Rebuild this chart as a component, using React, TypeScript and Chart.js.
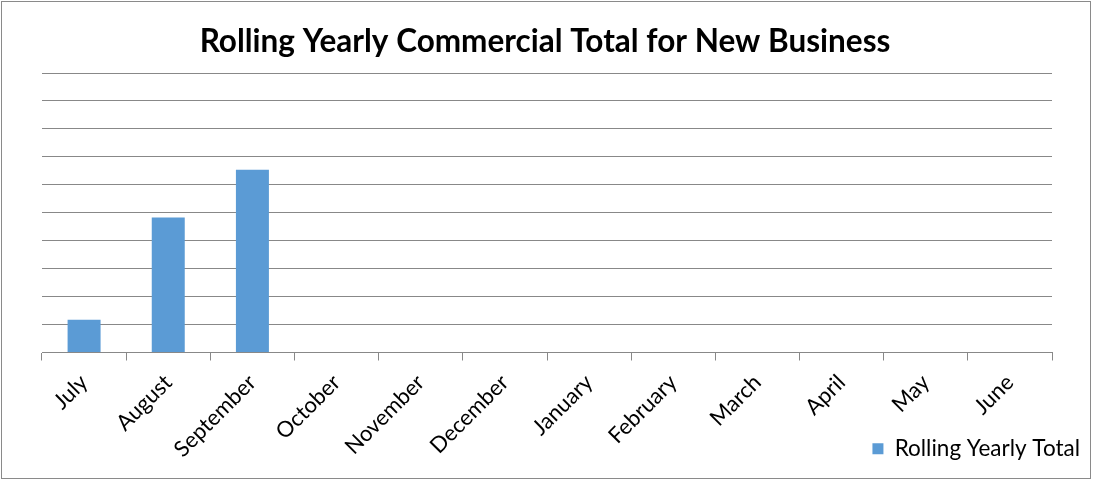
import React, { useEffect, useRef } from "react";
import { Chart, CategoryScale, registerables } from "chart.js";

class UnclippedCategoryScale extends (CategoryScale as any) {
  static id = "categoryUnclipped";
  _computeLabelArea() {
    return undefined;
  }
}

Chart.register(...registerables, UnclippedCategoryScale as any);

const months = [
  "July", "August", "September", "October", "November", "December",
  "January", "February", "March", "April", "May", "June",
];
const rollingYearlyTotal = [1.17, 4.83, 6.54, null, null, null, null, null, null, null, null, null];
const seriesName = "Rolling Yearly Total";
const chartTitle = "Rolling Yearly Commercial Total for New Business";

const W = 1094;
const H = 481;

const borderPlugin = {
  id: "outerBorder",
  afterDraw(chart: any) {
    const ctx = chart.ctx;
    ctx.save();
    ctx.strokeStyle = "#8a8a8a";
    ctx.lineWidth = 1;
    ctx.strokeRect(1.5, 1.5, 1089, 477);
    ctx.restore();
  },
};

export default function App() {
  const ref = useRef<HTMLCanvasElement>(null);
  useEffect(() => {
    document.body.style.margin = "0";
    const canvas = ref.current!;
    const chart = new Chart(canvas, {
      type: "bar",
      data: {
        labels: months,
        datasets: [
          {
            label: seriesName,
            data: rollingYearlyTotal as any,
            backgroundColor: "#5B9BD5",
            borderWidth: 0,
            categoryPercentage: 1,
            barPercentage: 0.392,
          },
        ],
      },
      options: {
        animation: false,
        responsive: false,
        maintainAspectRatio: false,
        layout: { padding: { left: 0, right: 4, top: 0, bottom: 11 } },
        plugins: {
          title: {
            display: true,
            text: chartTitle,
            color: "#000",
            font: { family: "Lato", size: 31.5, weight: "bold" },
            padding: { top: 23, bottom: 12.2 },
          },
          legend: {
            display: true,
            position: "bottom",
            align: "end",
            labels: {
              boxWidth: 11,
              boxHeight: 11,
              color: "#000",
              font: { family: "Lato", size: 22.5 },
              padding: 10,
            },
          },
          tooltip: { enabled: false },
        },
        scales: {
          x: {
            type: "categoryUnclipped" as any,
            grid: {
              offset: true,
              drawOnChartArea: false,
              drawTicks: true,
              tickLength: 8,
              color: "#888",
            },
            border: { display: true, color: "#888" },
            ticks: {
              color: "#000",
              font: { family: "Lato", size: 22 },
              minRotation: 45,
              maxRotation: 45,
              padding: 9,
              autoSkip: false,
            },
            afterFit: (s: any) => {
              s.height = 75;
            },
          },
          y: {
            min: 0,
            max: 10,
            position: "left",
            ticks: { display: false, stepSize: 1 },
            grid: { color: "#888", drawTicks: false },
            border: { display: false },
            afterFit: (s: any) => {
              s.width = 42;
            },
          },
          yR: {
            type: "linear",
            position: "right",
            min: 0,
            max: 1,
            ticks: { display: false },
            grid: { display: false },
            border: { display: false },
            afterFit: (s: any) => {
              s.width = W - 4 - 1052;
            },
          },
        },
      },
      plugins: [borderPlugin],
    });
    return () => chart.destroy();
  }, []);
  return (
    <canvas
      ref={ref}
      width={W}
      height={H}
      style={{ display: "block", width: W, height: H }}
    />
  );
}
